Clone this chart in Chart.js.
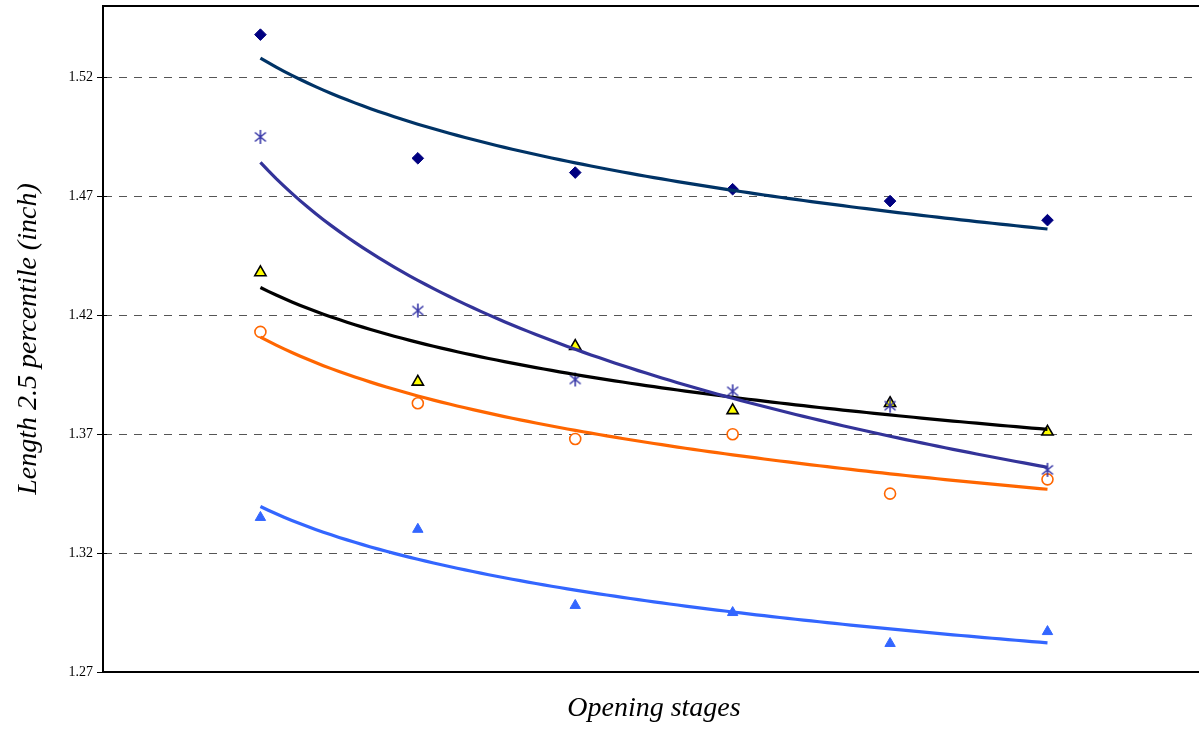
<!DOCTYPE html>
<html>
<head>
<meta charset="utf-8">
<script src="https://cdn.jsdelivr.net/npm/chart.js@4/dist/chart.umd.min.js"></script>
<style>
  html, body { margin: 0; padding: 0; background: #fff; overflow: hidden; }
  #wrap { width: 1213px; height: 731px; margin-top: -2px; }
</style>
</head>
<body>
<div id="wrap"><canvas id="c" width="1213" height="731" style="width:1213px;height:731px"></canvas></div>
<script>
// Opening stages 1..6
const stages = [1, 2, 3, 4, 5, 6];

// Length 2.5 percentile (inch) per series
const seriesDiamond  = [1.538, 1.486, 1.480, 1.473, 1.468, 1.460];
const seriesStar     = [1.495, 1.422, 1.393, 1.388, 1.382, 1.355];
const seriesYellow   = [1.438, 1.392, 1.407, 1.380, 1.383, 1.371];
const seriesCircle   = [1.413, 1.383, 1.368, 1.370, 1.345, 1.351];
const seriesBlueTri  = [1.335, 1.330, 1.298, 1.295, 1.282, 1.287];

// Y axis tick labels
const yTicks = [1.27, 1.32, 1.37, 1.42, 1.47, 1.52];

const FONT = "'Liberation Serif', 'Times New Roman', serif";

function toPoints(values) {
  return values.map((v, i) => ({ x: stages[i], y: v }));
}

// Logarithmic least-squares trendline  y = a*ln(x) + b
function logTrend(values) {
  const lx = stages.map(Math.log);
  const n = values.length;
  const mx = lx.reduce((s, v) => s + v, 0) / n;
  const my = values.reduce((s, v) => s + v, 0) / n;
  let sxy = 0, sxx = 0;
  for (let i = 0; i < n; i++) {
    sxy += (lx[i] - mx) * (values[i] - my);
    sxx += (lx[i] - mx) * (lx[i] - mx);
  }
  const a = sxy / sxx, b = my - a * mx;
  const pts = [];
  const x0 = stages[0], x1 = stages[stages.length - 1];
  const steps = 100;
  for (let k = 0; k <= steps; k++) {
    const x = x0 + (x1 - x0) * k / steps;
    pts.push({ x: x, y: a * Math.log(x) + b });
  }
  return pts;
}

// Asterisk marker: an X crossed by a vertical stroke
function makeAsterisk(color) {
  const s = 16, c = document.createElement('canvas');
  c.width = s; c.height = s;
  const g = c.getContext('2d');
  g.strokeStyle = color; g.lineWidth = 1.6; g.lineCap = 'butt';
  g.beginPath();
  g.moveTo(8, 1); g.lineTo(8, 15);
  g.moveTo(2.5, 3.5); g.lineTo(13.5, 12.5);
  g.moveTo(13.5, 3.5); g.lineTo(2.5, 12.5);
  g.stroke();
  return c;
}

function markers(label, values, style) {
  return Object.assign({
    label: label,
    type: 'scatter',
    data: toPoints(values),
    showLine: false,
    order: 2
  }, style);
}

function trend(label, values, color) {
  return {
    label: label,
    type: 'line',
    data: logTrend(values),
    borderColor: color,
    borderWidth: 3.2,
    pointRadius: 0,
    fill: false,
    tension: 0,
    order: 1
  };
}

// Frame line along the top of the plot area, plus tick marks crossing the y axis
const frame = {
  id: 'frame',
  afterDraw(chart) {
    const { ctx, chartArea, scales } = chart;
    ctx.save();
    ctx.strokeStyle = '#000';
    ctx.lineWidth = 2;
    ctx.beginPath();
    ctx.moveTo(chartArea.left - 1, chartArea.top);
    ctx.lineTo(chartArea.right, chartArea.top);
    ctx.stroke();
    ctx.lineWidth = 1;
    ctx.beginPath();
    scales.y.ticks.forEach(t => {
      const py = Math.round(scales.y.getPixelForValue(t.value)) + 0.5;
      ctx.moveTo(chartArea.left, py);
      ctx.lineTo(chartArea.left + 4, py);
    });
    ctx.stroke();
    ctx.restore();
  }
};

new Chart(document.getElementById('c'), {
  type: 'scatter',
  data: {
    datasets: [
      markers('Diamond', seriesDiamond, {
        pointStyle: 'rectRot', pointRadius: 5.8, backgroundColor: '#000080', borderColor: '#000080', borderWidth: 1
      }),
      markers('Star', seriesStar, {
        pointStyle: makeAsterisk('#3838a8'), pointRadius: 7
      }),
      markers('Yellow triangle', seriesYellow, {
        pointStyle: 'triangle', pointRadius: 6.5, backgroundColor: '#ffff00', borderColor: '#000', borderWidth: 1.6
      }),
      markers('Circle', seriesCircle, {
        pointStyle: 'circle', pointRadius: 5.5, backgroundColor: '#fff', borderColor: '#ff6600', borderWidth: 1.6
      }),
      markers('Blue triangle', seriesBlueTri, {
        pointStyle: 'triangle', pointRadius: 6, backgroundColor: '#3366ff', borderColor: '#3366ff', borderWidth: 1
      }),
      trend('Diamond trend', seriesDiamond, '#003366'),
      trend('Star trend', seriesStar, '#333399'),
      trend('Yellow triangle trend', seriesYellow, '#000000'),
      trend('Circle trend', seriesCircle, '#ff6600'),
      trend('Blue triangle trend', seriesBlueTri, '#3366ff')
    ]
  },
  options: {
    responsive: false,
    animation: false,
    layout: { padding: { top: 2, right: 0, bottom: 0, left: 0 } },
    plugins: {
      legend: { display: false },
      tooltip: { enabled: false }
    },
    scales: {
      x: {
        type: 'linear',
        min: 0,
        max: 7,
        ticks: { display: false },
        grid: { display: false, drawTicks: false },
        border: { display: true, color: '#000', width: 2 },
        title: {
          display: true,
          text: 'Opening stages',
          color: '#000',
          font: { family: FONT, size: 28, style: 'italic' },
          padding: { top: 0, bottom: 4 }
        },
        afterFit(scale) {
          scale.height = 57;
          scale.paddingLeft = 0;
          scale.paddingRight = 0;
        }
      },
      y: {
        type: 'linear',
        min: 1.27,
        max: 1.55,
        afterBuildTicks(scale) {
          scale.ticks = yTicks.map(v => ({ value: v }));
        },
        ticks: {
          color: '#000',
          padding: 4,
          font: { family: FONT, size: 14 },
          callback: v => v.toFixed(2)
        },
        grid: {
          color: '#555',
          lineWidth: 1,
          drawTicks: true,
          tickLength: 6,
          tickColor: '#000',
          tickBorderDash: [],
          tickWidth: 1
        },
        border: { display: true, color: '#000', width: 2, dash: [8, 7] },
        title: {
          display: true,
          text: 'Length 2.5 percentile (inch)',
          color: '#000',
          font: { family: FONT, size: 28, style: 'italic' },
          padding: { top: 12, bottom: 0 }
        },
        afterFit(scale) {
          scale.width = 103;
          scale.paddingTop = 0;
          scale.paddingBottom = 0;
        }
      }
    }
  },
  plugins: [frame]
});
</script>
</body>
</html>
